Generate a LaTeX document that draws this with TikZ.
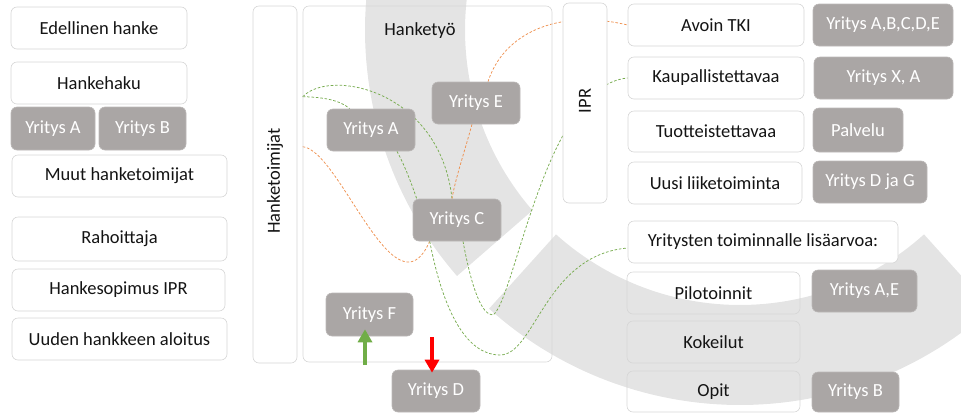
\documentclass[tikz,border=0pt]{standalone}
\usepackage{fontspec}
\setmainfont{Carlito}
\usetikzlibrary{arrows.meta,calc}
\pgfdeclarelayer{bg}
\pgfsetlayers{bg,main}
\definecolor{bandgray}{RGB}{228,228,228}
\definecolor{boxgray}{RGB}{170,166,165}
\definecolor{edgegray}{RGB}{214,214,214}
\definecolor{txt}{RGB}{20,20,20}
\definecolor{dorange}{RGB}{238,145,80}
\definecolor{dgreen}{RGB}{120,172,80}
\definecolor{agreen}{RGB}{112,173,71}
\definecolor{ared}{RGB}{255,0,0}
\newcommand{\mkbox}[7]{\node[#1, minimum width={(#5-(#3))*1pt}, minimum height={(#6-(#4))*1pt}] (#2) at ({(#3+#5)/2},{(#4+#6)/2}) {#7};}
\begin{document}
\begin{tikzpicture}[x=1pt,y=-1pt,
  lbl/.style={text=txt, font=\fontsize{18.5}{21}\selectfont, inner sep=0pt},
  wbox/.style={lbl, draw=edgegray, line width=0.6pt, fill=white, rounded corners=6pt},
  obox/.style={wbox, fill=none},
  gbox/.style={fill=boxgray, draw=boxgray!80!white, line width=0.6pt, rounded corners=6pt, text=white, font=\fontsize{18.5}{21}\selectfont, inner sep=0pt},
  link/.style={dash pattern=on 2.6pt off 1.8pt, line width=0.75pt},
  fat/.style={line width=4pt, -{Triangle[width=14pt,length=13pt]}}
]
\useasboundingbox (0,0) rectangle (961,413);
% left column
\mkbox{wbox}{edel}{11}{7}{187}{49}{Edellinen hanke\hspace{14pt}}
\mkbox{wbox}{haku}{11}{62}{187}{104}{Hankehaku}
\mkbox{gbox}{lyA}{11}{107}{95}{150}{Yritys A}
\mkbox{gbox}{lyB}{99}{107}{186}{150}{Yritys B}
\mkbox{wbox}{muut}{12}{155}{227}{197}{Muut hanketoimijat}
\mkbox{wbox}{rah}{12}{217}{227}{261}{Rahoittaja}
\mkbox{wbox}{sop}{12}{269}{225}{311}{Hankesopimus IPR}
\mkbox{wbox}{uusi}{12}{318}{227}{360}{Uuden hankkeen aloitus}
% middle
\mkbox{wbox}{htoim}{253}{6}{297}{363}{}
\node[lbl, rotate=90] (htoimt) at (275,181) {Hanketoimijat};
\mkbox{obox}{htyo}{303}{6}{552}{362}{}
\node[lbl] (htyot) at (420,31) {Hanketyö};
\mkbox{wbox}{ipr}{563}{3}{607}{203}{}
\node[lbl, rotate=90] (iprt) at (585,101) {IPR};
\mkbox{gbox}{yE}{432}{82}{520}{124}{Yritys E}
\mkbox{gbox}{yA}{327}{109}{415}{151}{Yritys A}
\mkbox{gbox}{yC}{413}{199}{501}{241}{Yritys C}
\mkbox{gbox}{yF}{326}{293}{413}{336}{Yritys F}
\mkbox{gbox}{yD}{392}{370}{480}{412}{Yritys D}
% right column
\mkbox{wbox}{tki}{628}{4}{804}{46}{Avoin TKI}
\mkbox{gbox}{gABC}{813}{4}{953}{46}{Yritys A,B,C,D,E}
\mkbox{wbox}{kaup}{628}{57}{804}{99}{Kaupallistettavaa}
\mkbox{gbox}{gXA}{814}{57}{953}{99}{Yritys X, A}
\mkbox{wbox}{tuot}{628}{111}{804}{152}{Tuotteistettavaa}
\mkbox{gbox}{palv}{813}{108}{903}{152}{Palvelu}
\mkbox{wbox}{liik}{628}{162}{802}{204}{Uusi liiketoiminta}
\mkbox{gbox}{gDG}{813}{161}{927}{203}{Yritys D ja G}
\mkbox{wbox}{lisa}{628}{221}{898}{263}{Yritysten toiminnalle lisäarvoa:}
\mkbox{obox}{pilo}{627}{272}{800}{314}{Pilotoinnit}
\mkbox{gbox}{gAE}{812}{270}{917}{312}{Yritys A,E}
\mkbox{obox}{koke}{627}{321}{800}{363}{Kokeilut}
\mkbox{obox}{opit}{627}{371}{800}{412}{Opit}
\mkbox{gbox}{gB}{812}{372}{899}{412}{Yritys B}
% connector end points
\coordinate (l1) at ($(htyo.north west)+(0,91)$);
\coordinate (l2) at ($(htyo.north west)+(0,141)$);
\coordinate (cT) at ($(yC.north)+(-5,0)$);
\coordinate (cTL) at ($(yC.north west)+(4,0)$);
\coordinate (cBL) at ($(yC.south west)+(17,0)$);
\coordinate (cB) at ($(yC.south)+(6,0)$);
\coordinate (aT) at ($(yA.north west)+(23,0)$);
\coordinate (aB) at ($(yA.south)+(26,0)$);
\coordinate (eB) at ($(yE.south)+(-4,0)$);
\coordinate (eT) at ($(yE.north)+(12,0)$);
\coordinate (lisaW) at ($(lisa.west)+(0,6)$);
\coordinate (gtail) at (365,365);
\coordinate (rtail) at (432,337);
\begin{pgfonlayer}{bg}
\begin{scope}
\clip (0,0) rectangle (961,413);
\fill[bandgray] plot[domain=205:139, samples=50] ({740+375*cos(\x)},{30+375*sin(\x)})
  -- plot[domain=139:205, samples=50] ({740+275*cos(\x)},{30+275*sin(\x)}) -- cycle;
\fill[bandgray] plot[domain=132:48, samples=60] ({740+375*cos(\x)},{30+375*sin(\x)})
  -- plot[domain=48:132, samples=60] ({740+275*cos(\x)},{30+275*sin(\x)}) -- cycle;
\end{scope}
% dashed links
\draw[link, dgreen] (l1) .. controls (330,68) and (440,90) .. (cT);
\draw[link, dgreen] (l1) .. controls (322,97) and (340,100) .. (aT);
\draw[link, dgreen] (aB) .. controls (405,166) and (412,185) .. (cTL);
\draw[link, dorange] (eB) .. controls (465,150) and (455,180) .. (cT);
\draw[link, dorange] (eT) .. controls (503,35) and (555,8) .. (tki.west);
\draw[link, dorange] (l2) .. controls (340,150) and (395,320) .. (cBL);
\draw[link, dgreen] (cBL) .. controls (445,320) and (470,355) .. (500,355)
  .. controls (535,355) and (545,255) .. (lisaW);
\draw[link, dgreen] (cB) .. controls (472,290) and (482,315) .. (493,315)
  .. controls (515,300) and (545,85) .. (kaup.west);
\end{pgfonlayer}
% arrows
\draw[fat, agreen] (gtail) -- ($(yF.south)+(-4.5,-7)$);
\draw[fat, ared] (rtail) -- ($(yD.north)+(-4,3)$);
\end{tikzpicture}
\end{document}
